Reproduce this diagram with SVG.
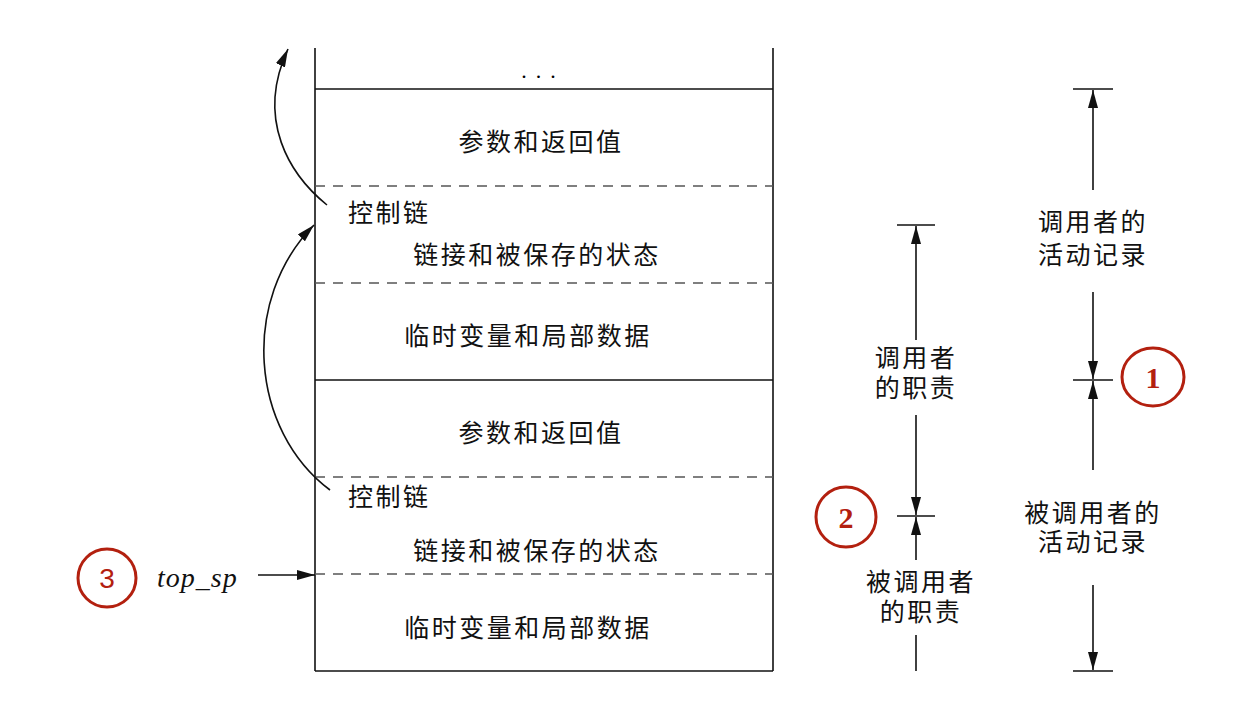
<svg xmlns="http://www.w3.org/2000/svg" width="1239" height="707" viewBox="0 0 1239 707">
<style>
.cn{font-family:"Noto Sans CJK SC","Noto Sans CJK JP",sans-serif;font-size:25px;fill:#111;letter-spacing:2.5px}
.ln{stroke:#111;stroke-width:1.6;fill:none}
.dash{stroke:#555;stroke-width:1.5;stroke-dasharray:10 8;fill:none}
.circ{fill:none;stroke:#b3200f;stroke-width:3}
.num{font-family:"Liberation Serif",serif;font-size:30px;fill:#b3200f;font-weight:bold;text-anchor:middle}
</style>
<defs>
<marker id="ah" viewBox="0 0 18 10" refX="18" refY="5" markerWidth="18" markerHeight="10" markerUnits="userSpaceOnUse" orient="auto">
<path d="M0,0 L18,5 L0,10 z" fill="#111"/>
</marker>
</defs>
<rect width="1239" height="707" fill="#fff"/>
<g id="stack">
<line class="ln" x1="315" y1="48" x2="315" y2="671"/>
<line class="ln" x1="773" y1="48" x2="773" y2="671"/>
<line class="ln" x1="315" y1="89" x2="773" y2="89"/>
<line class="ln" x1="315" y1="380" x2="773" y2="380"/>
<line class="ln" x1="315" y1="671" x2="773" y2="671"/>
<line class="dash" x1="315" y1="186" x2="773" y2="186"/>
<line class="dash" x1="315" y1="283" x2="773" y2="283"/>
<line class="dash" x1="315" y1="477" x2="773" y2="477"/>
<line class="dash" x1="315" y1="574" x2="773" y2="574"/>
<text x="543" y="78" font-family="Liberation Serif,serif" font-size="22" text-anchor="middle" letter-spacing="9">...</text>
</g>
<g id="caller-frame">
<text class="cn" x="541" y="151" text-anchor="middle">参数和返回值</text>
<text class="cn" x="348" y="222">控制链</text>
<text class="cn" x="537" y="264" text-anchor="middle">链接和被保存的状态</text>
<text class="cn" x="528" y="345" text-anchor="middle">临时变量和局部数据</text>
</g>
<g id="callee-frame">
<text class="cn" x="541" y="442" text-anchor="middle">参数和返回值</text>
<text class="cn" x="348" y="506">控制链</text>
<text class="cn" x="537" y="560" text-anchor="middle">链接和被保存的状态</text>
<text class="cn" x="528" y="637" text-anchor="middle">临时变量和局部数据</text>
</g>
<g id="top-sp">
<circle class="circ" cx="107" cy="578" r="29"/>
<text x="107" y="588" style="font-family:'Liberation Sans',sans-serif;font-size:28px;fill:#b3200f;text-anchor:middle">3</text>
<text x="157" y="587" font-family="Liberation Serif,serif" font-style="italic" font-size="28" fill="#111" letter-spacing="1">top_sp</text>
</g>
<g id="caller-resp">
<line class="ln" x1="897" y1="225" x2="935" y2="225"/>
<line class="ln" x1="897" y1="516" x2="935" y2="516"/>
<text class="cn" text-anchor="middle"><tspan x="916" y="367">调用者</tspan><tspan x="916" y="397">的职责</tspan></text>
</g>
<g id="callee-resp">
<text class="cn" text-anchor="middle"><tspan x="921" y="591">被调用者</tspan><tspan x="921" y="621">的职责</tspan></text>
</g>
<g id="marker2">
<circle class="circ" cx="846" cy="517" r="30"/>
<text class="num" x="846" y="528">2</text>
</g>
<g id="caller-record">
<line class="ln" x1="1073" y1="89" x2="1113" y2="89"/>
<line class="ln" x1="1073" y1="380" x2="1113" y2="380"/>
<line class="ln" x1="1073" y1="671" x2="1113" y2="671"/>
<text class="cn" text-anchor="middle"><tspan x="1093" y="231">调用者的</tspan><tspan x="1093" y="264">活动记录</tspan></text>
</g>
<g id="callee-record">
<text class="cn" text-anchor="middle"><tspan x="1093" y="522">被调用者的</tspan><tspan x="1093" y="551">活动记录</tspan></text>
</g>
<g id="marker1">
<ellipse class="circ" cx="1153" cy="377" rx="31" ry="29"/>
<text class="num" x="1153" y="388">1</text>
</g>
<g id="connectors">
<path class="ln" d="M327 205 C290 175 255 120 288 49" marker-end="url(#ah)"/>
<path class="ln" d="M330 490 C250 430 240 300 314 225" marker-end="url(#ah)"/>
<line class="ln" x1="258" y1="575" x2="315" y2="575" marker-end="url(#ah)"/>
<line class="ln" x1="916" y1="340" x2="916" y2="226" marker-end="url(#ah)"/>
<line class="ln" x1="916" y1="415" x2="916" y2="515" marker-end="url(#ah)"/>
<line class="ln" x1="916" y1="560" x2="916" y2="517" marker-end="url(#ah)"/>
<line class="ln" x1="916" y1="635" x2="916" y2="671"/>
<line class="ln" x1="1093" y1="190" x2="1093" y2="90" marker-end="url(#ah)"/>
<line class="ln" x1="1093" y1="292" x2="1093" y2="379" marker-end="url(#ah)"/>
<line class="ln" x1="1093" y1="470" x2="1093" y2="381" marker-end="url(#ah)"/>
<line class="ln" x1="1093" y1="585" x2="1093" y2="670" marker-end="url(#ah)"/>
</g>
</svg>
